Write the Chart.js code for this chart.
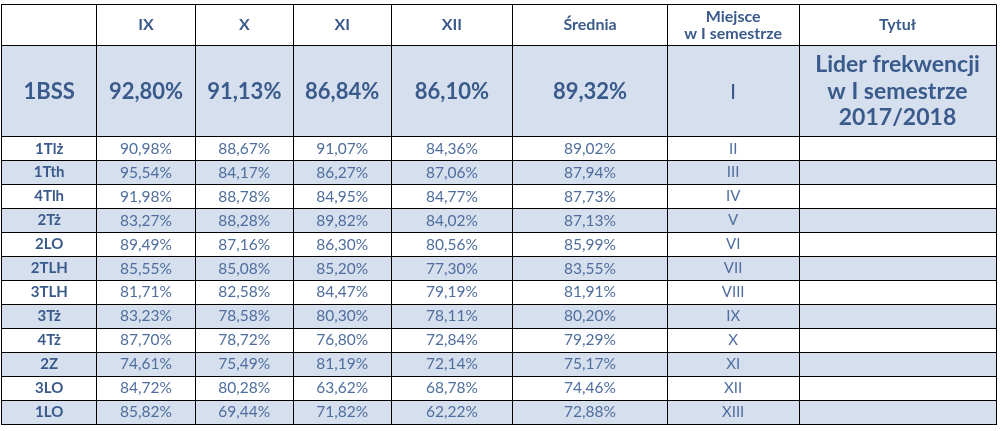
<!DOCTYPE html>
<html>
<head>
<meta charset="utf-8">
<script src="https://cdn.jsdelivr.net/npm/chart.js@4/dist/chart.umd.min.js"></script>
<style>
html,body{margin:0;padding:0;background:#fff;}
#wrap{width:1002px;height:431px;}
</style>
</head>
<body>
<div id="wrap"><canvas id="c" width="1002" height="431"></canvas></div>
<script>
// ---- data ----
const headers = ['', 'IX', 'X', 'XI', 'XII', 'Średnia', 'Miejsce\nw I semestrze', 'Tytuł'];
const leaderClass = '1BSS';
const leaderValues = [92.80, 91.13, 86.84, 86.10, 89.32];
const leaderPlace = 'I';
const leaderTitle = ['Lider frekwencji', 'w I semestrze', '2017/2018'];
const classes = ['1Tlż', '1Tth', '4Tlh', '2Tż', '2LO', '2TLH', '3TLH', '3Tż', '4Tż', '2Z', '3LO', '1LO'];
const ixValues  = [90.98, 95.54, 91.98, 83.27, 89.49, 85.55, 81.71, 83.23, 87.70, 74.61, 84.72, 85.82];
const xValues   = [88.67, 84.17, 88.78, 88.28, 87.16, 85.08, 82.58, 78.58, 78.72, 75.49, 80.28, 69.44];
const xiValues  = [91.07, 86.27, 84.95, 89.82, 86.30, 85.20, 84.47, 80.30, 76.80, 81.19, 63.62, 71.82];
const xiiValues = [84.36, 87.06, 84.77, 84.02, 80.56, 77.30, 79.19, 78.11, 72.84, 72.14, 68.78, 62.22];
const avgValues = [89.02, 87.94, 87.73, 87.13, 85.99, 83.55, 81.91, 80.20, 79.29, 75.17, 74.46, 72.88];
const places = ['II', 'III', 'IV', 'V', 'VI', 'VII', 'VIII', 'IX', 'X', 'XI', 'XII', 'XIII'];

// ---- layout (table units = px) ----
const colEdges = [0, 95, 193.6, 291.6, 389.3, 511, 665.6, 797.3, 994.3];
const headerH = 41.7, leaderH = 90.7, rowH = 23.967;
const tableW = colEdges[colEdges.length - 1];
const tableH = headerH + leaderH + rowH * classes.length;
const rowEdges = [0, headerH, headerH + leaderH];
classes.forEach((c, i) => rowEdges.push(headerH + leaderH + rowH * (i + 1)));

// ---- styles ----
const BLUE = '#d5dfee';
const DARK = '#3a5a8b';
const MID = '#4f6e9e';
const FONT = 'Lato';

const fmt = v => v.toFixed(2).replace('.', ',') + '%';

// rows of bars: leader + classes
const rowLabels = [leaderClass].concat(classes);
const rowCenters = rowLabels.map((r, i) => i === 0 ? headerH + leaderH / 2 : headerH + leaderH + rowH * (i - 1) + rowH / 2);

const tablePlugin = {
  id: 'tableText',
  afterDraw(chart) {
    const ctx = chart.ctx;
    const xs = chart.scales.x, ys = chart.scales.y;
    const cx = c => xs.getPixelForValue((colEdges[c] + colEdges[c + 1]) / 2);
    const py = v => ys.getPixelForValue(v);
    ctx.save();
    ctx.textAlign = 'center';
    ctx.textBaseline = 'middle';
    // header
    ctx.fillStyle = DARK;
    ctx.font = 'bold 16px ' + FONT;
    headers.forEach((h, c) => {
      const lines = h.split('\n');
      const lh = 16.5;
      lines.forEach((ln, k) => {
        ctx.fillText(ln, cx(c), py(headerH / 2 + (k - (lines.length - 1) / 2) * lh));
      });
    });
    // leader row
    const ly = headerH + leaderH / 2;
    ctx.font = 'bold 22px ' + FONT;
    ctx.fillText(leaderClass, cx(0), py(ly + 1));
    leaderValues.forEach((v, i) => ctx.fillText(fmt(v), cx(i + 1), py(ly + 1)));
    ctx.font = '22px ' + FONT;
    ctx.fillText(leaderPlace, cx(6), py(ly + 1));
    ctx.font = 'bold 23px ' + FONT;
    leaderTitle.forEach((t, k) => ctx.fillText(t, cx(7), py(ly + (k - 1) * 26.7)));
    // class rows
    const series = [ixValues, xValues, xiValues, xiiValues, avgValues];
    classes.forEach((cl, i) => {
      const y = py(rowCenters[i + 1]);
      ctx.fillStyle = DARK;
      ctx.font = 'bold 15px ' + FONT;
      ctx.fillText(cl, cx(0), y);
      ctx.fillStyle = MID;
      ctx.font = '15.5px ' + FONT;
      series.forEach((s, k) => ctx.fillText(fmt(s[i]), cx(k + 1), y));
      ctx.font = '15px ' + FONT;
      ctx.fillText(places[i], cx(6), y);
    });
    ctx.restore();
  }
};

function build() {
  new Chart(document.getElementById('c'), {
    type: 'bar',
    data: {
      datasets: [{
        label: 'leader',
        data: [{ y: rowCenters[0], x: [0, tableW] }],
        backgroundColor: BLUE,
        barThickness: leaderH,
        grouped: false
      }, {
        label: 'rows',
        data: classes.map((c, i) => ({ y: rowCenters[i + 1], x: [0, tableW] })),
        backgroundColor: ctx => (ctx.dataIndex % 2 === 1 ? BLUE : '#ffffff'),
        barThickness: rowH,
        grouped: false
      }]
    },
    options: {
      indexAxis: 'y',
      responsive: false,
      animation: false,
      events: [],
      layout: { padding: { left: 1.7, top: 4.3, right: 6, bottom: 6.7 } },
      plugins: { legend: { display: false }, tooltip: { enabled: false }, title: { display: false } },
      scales: {
        x: {
          type: 'linear', min: 0, max: tableW, offset: false,
          afterBuildTicks: s => { s.ticks = colEdges.map(v => ({ value: v })); },
          ticks: { display: false },
          grid: { color: '#000', lineWidth: 1, drawTicks: false, offset: false, z: 1 },
          border: { display: true, color: '#000', width: 1, z: 1 }
        },
        y: {
          type: 'linear', min: 0, max: tableH, reverse: true, offset: false,
          afterBuildTicks: s => { s.ticks = rowEdges.map(v => ({ value: v })); },
          ticks: { display: false },
          grid: { color: '#000', lineWidth: 1, drawTicks: false, offset: false, z: 1 },
          border: { display: true, color: '#000', width: 1, z: 1 }
        }
      }
    },
    plugins: [tablePlugin]
  });
}
const fontsReady = document.fonts ? Promise.all([
  document.fonts.load('16px Lato'), document.fonts.load('bold 16px Lato')
]).catch(() => {}) : Promise.resolve();
fontsReady.then(build, build);
</script>
</body>
</html>
